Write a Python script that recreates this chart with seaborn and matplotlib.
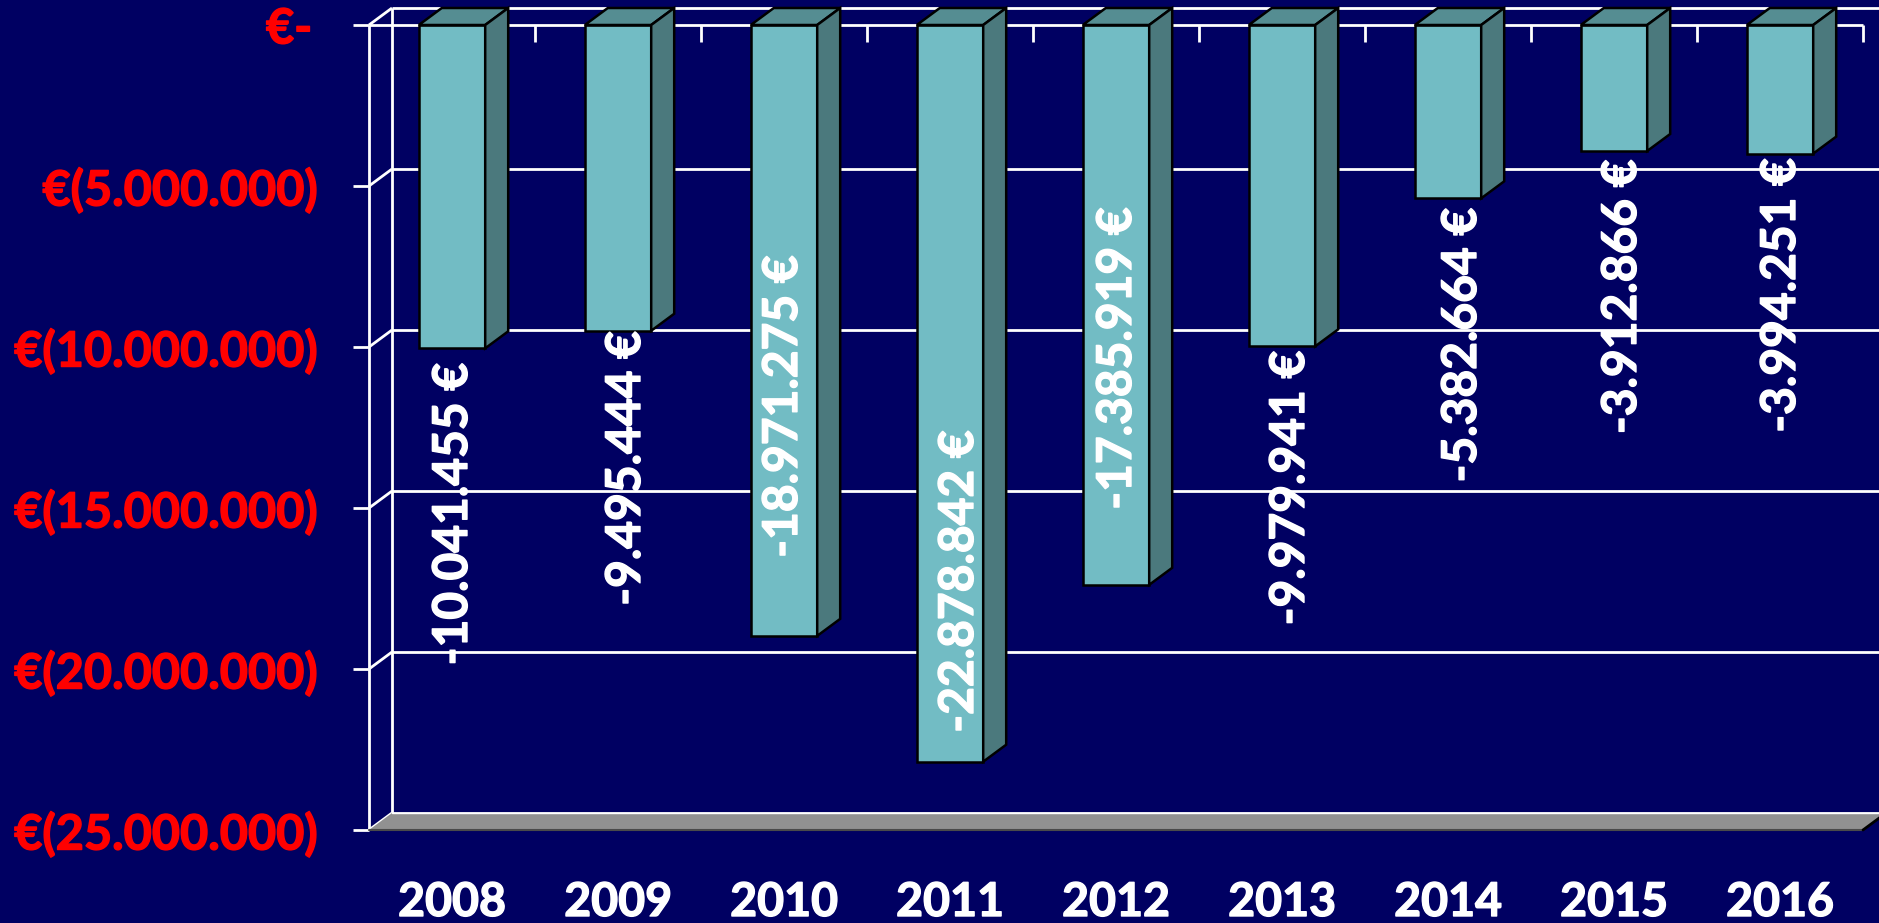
import matplotlib
matplotlib.use("Agg")
import matplotlib.pyplot as plt
import matplotlib.patheffects as pe
from matplotlib.patches import Polygon
import seaborn as sns

years = ["2008", "2009", "2010", "2011", "2012", "2013", "2014", "2015", "2016"]
values = [-10041455, -9495444, -18971275, -22878842, -17385919, -9979941, -5382664, -3912866, -3994251]
value_labels = ["-10.041.455 €", "-9.495.444 €", "-18.971.275 €", "-22.878.842 €", "-17.385.919 €",
                "-9.979.941 €", "-5.382.664 €", "-3.912.866 €", "-3.994.251 €"]
y_ticks = [0, -5000000, -10000000, -15000000, -20000000, -25000000]
# the thin space keeps "€-" a bit left of the other tick labels
y_labels = ["€-\u2009", "€(5.000.000)", "€(10.000.000)", "€(15.000.000)", "€(20.000.000)", "€(25.000.000)"]

# label offset from the end of each bar, in pixels
label_dx = [1, 8, -1, 9, 1, 8, 14, 8, 1]
label_dy = [-166, -138, 229, 180, 226, -142, -147, -146, -142]

BG = "#000062"
FRONT = "#72BCC4"
TOP = "#558D92"
SIDE = "#4B797D"
W, H = 1879, 923

sns.set_theme(style="white")
plt.rcParams["font.family"] = ["Lato", "DejaVu Sans"]
plt.rcParams["font.weight"] = "bold"

fig = plt.figure(figsize=(W / 100, H / 100), dpi=100, facecolor=BG)
ax = fig.add_axes([369 / W, 1 - 830 / H, 1494 / W, 805 / H], facecolor="none")

bar_w = 0.40
sns.barplot(x=years, y=values, color=FRONT, saturation=1, width=bar_w,
            edgecolor="black", linewidth=1.8, ax=ax, zorder=4)

ax.set_xlim(-0.5, 8.5)
ax.set_ylim(-25000000, 0)
for s in ax.spines.values():
    s.set_visible(False)

# depth of the fake 3D box
dx = 23 / 166
dy = 17 / 161 * 5000000
line = dict(color="white", lw=2, clip_on=False, solid_capstyle="butt")

# -------------------- WALLS --------------------
for t in y_ticks:
    ax.plot([-0.5, -0.5 + dx], [t, t + dy], zorder=2, **line)
    ax.plot([-0.5 + dx, 8.7], [t + dy, t + dy], zorder=2, **line)
ax.plot([-0.5, -0.5], [0, -25000000], zorder=2, **line)
ax.plot([-0.5 + dx, -0.5 + dx], [dy, -25000000 + dy], zorder=2, **line)
ax.plot([-0.5, 8.5], [0, 0], zorder=2, **line)

# floor
ax.add_patch(Polygon([(-0.5, -25000000), (8.5, -25000000), (8.5 + dx, -25000000 + dy), (-0.5 + dx, -25000000 + dy)],
                     facecolor="#919191", edgecolor="none", clip_on=False, zorder=3))
ax.plot([-0.5, 8.5], [-25000000, -25000000], color="#4a4a4a", lw=1.5, clip_on=False, zorder=3)
ax.plot([-0.5 + dx, 8.7], [-25000000 + dy, -25000000 + dy], color="white", lw=1, clip_on=False, zorder=3)
ax.plot([8.5, 8.5 + dx], [-25000000, -25000000 + dy], color="black", lw=2, clip_on=False, zorder=3)

# -------------------- BAR TOPS AND SIDES --------------------
for i, val in enumerate(values):
    l, r = i - bar_w / 2, i + bar_w / 2
    ax.add_patch(Polygon([(l, 0), (r, 0), (r + dx, dy), (l + dx, dy)], facecolor=TOP,
                         edgecolor="black", lw=1.8, clip_on=False, zorder=4))
    ax.add_patch(Polygon([(r, 0), (r + dx, dy), (r + dx, val + dy), (r, val)], facecolor=SIDE,
                         edgecolor="black", lw=1.8, clip_on=False, zorder=4))

# -------------------- TICKS --------------------
ax.set_xticks(range(len(years)))
ax.set_xticklabels(years, color="white", fontsize=33.5, fontweight="bold")
ax.tick_params(axis="x", which="major", length=0, pad=36)
ax.set_xticks([i + 0.5 for i in range(len(years))], minor=True)
ax.tick_params(axis="x", which="minor", top=True, bottom=False, direction="in",
               length=12, width=2, color="white")

ax.set_yticks(y_ticks)
ax.set_yticklabels(y_labels, color="#FF0000", fontsize=35, fontweight="bold")
ax.tick_params(axis="y", left=True, direction="out", length=11.5, width=2, color="white", pad=25)
ax.set_xlabel("")
ax.set_ylabel("")

# thicken the Lato strokes a little, the original face is heavier
for lab in ax.get_xticklabels():
    lab.set_path_effects([pe.withStroke(linewidth=1, foreground="white")])
for lab in ax.get_yticklabels():
    lab.set_path_effects([pe.withStroke(linewidth=1, foreground="#FF0000")])

# -------------------- VALUE LABELS --------------------
for i, val in enumerate(values):
    ax.annotate(value_labels[i], xy=(i, val), xytext=(label_dx[i], label_dy[i]), textcoords="offset pixels",
                rotation=90, ha="center", va="center", color="white", fontsize=34.5, fontweight="bold",
                annotation_clip=False, zorder=6,
                path_effects=[pe.withStroke(linewidth=1, foreground="white")])

fig.savefig("out.png", dpi=100, facecolor=BG)
